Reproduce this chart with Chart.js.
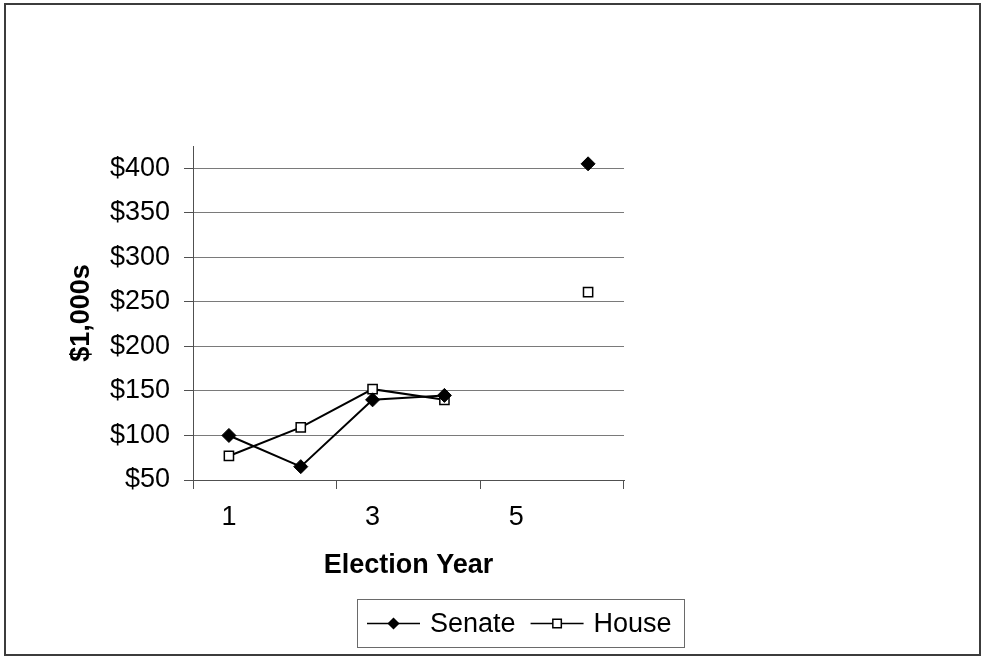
<!DOCTYPE html>
<html>
<head>
<meta charset="utf-8">
<title>Campaign spending by election year</title>
<script src="https://cdn.jsdelivr.net/npm/chart.js@4.4.1/dist/chart.umd.min.js"></script>
<style>
  html, body { margin: 0; padding: 0; background: #fff; }
  #wrap { width: 981px; height: 656px; }
</style>
</head>
<body>
<div id="wrap"><canvas id="chart" width="981" height="656"></canvas></div>
<script>
// Categories and values (thousands of dollars); year 5 has no data.
const electionYears = ['1', '2', '3', '4', '5', '6'];
const shownYearLabels = ['1', '3', '5'];
const senate = [100, 65, 140, 145, null, 405];
const house = [77, 109, 152, 140, null, 261];
const yTickValues = [50, 100, 150, 200, 250, 300, 350, 400];

Chart.defaults.font.family = '"Liberation Sans", Arial, Helvetica, sans-serif';
Chart.defaults.color = '#000';

const AXIS = '#505050';
const GRID = '#7a7a7a';

// White page with a thin frame around the whole chart
const frame = {
  id: 'frame',
  beforeDraw(chart) {
    const c = chart.ctx;
    c.save();
    c.fillStyle = '#fff';
    c.fillRect(0, 0, chart.width, chart.height);
    c.strokeStyle = '#3c3c3c';
    c.lineWidth = 2;
    c.strokeRect(5, 4, 975, 651);
    c.restore();
  }
};

// Boxed legend: line-marker-line sample followed by the series name
const boxedLegend = {
  id: 'boxedLegend',
  afterDraw(chart) {
    const c = chart.ctx;
    const box = { x: 357.5, y: 599.5, w: 327, h: 48 };
    const cy = box.y + box.h / 2;
    c.save();
    c.strokeStyle = '#6a6a6a';
    c.lineWidth = 1;
    c.strokeRect(box.x, box.y, box.w, box.h);
    c.font = '27px "Liberation Sans", Arial, sans-serif';
    c.textBaseline = 'middle';
    c.textAlign = 'left';
    let x = 367;
    chart.data.datasets.forEach((ds, i) => {
      c.strokeStyle = '#000';
      c.lineWidth = 1.5;
      c.beginPath();
      c.moveTo(x, cy);
      c.lineTo(x + 53, cy);
      c.stroke();
      c.fillStyle = ds.pointBackgroundColor;
      c.strokeStyle = ds.pointBorderColor;
      Chart.helpers.drawPoint(c, {
        pointStyle: ds.pointStyle,
        radius: ds.pointStyle === 'rectRot' ? 5 : 6,
        borderWidth: 1.5,
        rotation: 0
      }, x + 26.5, cy);
      c.fillStyle = '#000';
      c.fillText(ds.label, x + 63, cy + 1);
      x += 63 + c.measureText(ds.label).width + 15;
    });
    c.restore();
  }
};

new Chart(document.getElementById('chart'), {
  type: 'line',
  data: {
    labels: electionYears,
    datasets: [
      {
        label: 'Senate',
        data: senate,
        borderColor: '#000',
        backgroundColor: '#000',
        borderWidth: 2,
        tension: 0,
        spanGaps: false,
        pointStyle: 'rectRot',
        pointRadius: 7,
        pointBorderWidth: 1,
        pointBackgroundColor: '#000',
        pointBorderColor: '#000'
      },
      {
        label: 'House',
        data: house,
        borderColor: '#000',
        backgroundColor: '#fff',
        borderWidth: 2,
        tension: 0,
        spanGaps: false,
        pointStyle: 'rect',
        pointRadius: 6.5,
        pointBorderWidth: 1.5,
        pointBackgroundColor: '#fff',
        pointBorderColor: '#000'
      }
    ]
  },
  options: {
    responsive: false,
    animation: false,
    devicePixelRatio: 1,
    layout: { padding: { left: 0, top: 146, right: 357, bottom: 0 } },
    plugins: {
      legend: { display: false },
      tooltip: { enabled: false }
    },
    scales: {
      x: {
        type: 'category',
        offset: true,
        grid: {
          offset: true,
          drawOnChartArea: false,
          drawTicks: true,
          tickLength: 9,
          tickWidth: 1,
          // tick marks only on every second category boundary
          tickColor: (ctx) => {
            const i = ctx.index === undefined ? electionYears.length : ctx.index;
            return i % 2 === 0 ? AXIS : 'rgba(0,0,0,0)';
          }
        },
        border: { display: true, color: AXIS, width: 1 },
        ticks: {
          autoSkip: false,
          maxRotation: 0,
          padding: 12,
          font: { size: 27 },
          callback(value) {
            const label = this.getLabelForValue(value);
            return shownYearLabels.includes(label) ? label : '';
          }
        },
        title: {
          display: true,
          text: 'Election Year',
          font: { size: 27, weight: 'bold' },
          padding: { top: 0, bottom: 74 }
        },
        afterFit(scale) { scale.height = 176; }
      },
      y: {
        min: 50,
        max: 425,
        afterBuildTicks(scale) {
          scale.ticks = yTickValues.map(v => ({ value: v }));
        },
        grid: { color: GRID, lineWidth: 1, tickColor: AXIS, tickLength: 9 },
        border: { display: true, color: AXIS, width: 1 },
        ticks: {
          padding: 14,
          font: { size: 27 },
          callback: (v) => '$' + v
        },
        title: {
          display: true,
          text: '$1,000s',
          font: { size: 27, weight: 'bold' },
          padding: { top: 65, bottom: 0 }
        },
        afterFit(scale) { scale.width = 193; }
      }
    }
  },
  plugins: [frame, boxedLegend]
});
</script>
</body>
</html>
